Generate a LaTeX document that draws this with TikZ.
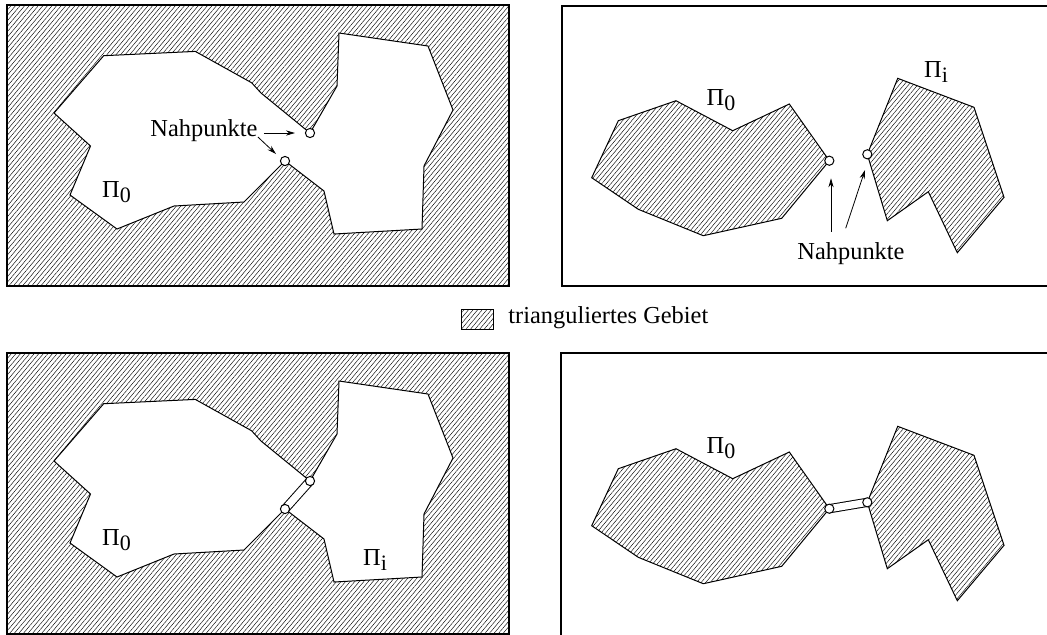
\documentclass[tikz,border=0pt]{standalone}
\usepackage{fontspec}
\setmainfont{Liberation Serif}
\usetikzlibrary{patterns.meta,arrows.meta}
\newcommand\holepoly[1]{%
  \coordinate (#1a1) at (103.7,55.7);
  \coordinate (#1a2) at (195.3,51.4);
  \coordinate (#1a3) at (251.7,82.8);
  \coordinate (#1a4) at (261,93);
  \coordinate (#1ct) at (310,133);
  \coordinate (#1a5) at (337,86);
  \coordinate (#1a6) at (339,33);
  \coordinate (#1a7) at (428,46);
  \coordinate (#1a8) at (453,110);
  \coordinate (#1a9) at (424,166);
  \coordinate (#1a10) at (422,229);
  \coordinate (#1a11) at (334,234);
  \coordinate (#1a12) at (324,191);
  \coordinate (#1cb) at (285,161);
  \coordinate (#1a13) at (244,202);
  \coordinate (#1a14) at (174,206);
  \coordinate (#1a15) at (117,229);
  \coordinate (#1a16) at (70,195);
  \coordinate (#1a17) at (90.5,146);
  \coordinate (#1a18) at (54,113);
  \fill[hatch] (7,5) rectangle (509,286);
  \filldraw[outline,fill=white] (#1a1) -- (#1a2) -- (#1a3) -- (#1a4) -- (#1ct) -- (#1a5) -- (#1a6) -- (#1a7) -- (#1a8) -- (#1a9) -- (#1a10) -- (#1a11) -- (#1a12) -- (#1cb) -- (#1a13) -- (#1a14) -- (#1a15) -- (#1a16) -- (#1a17) -- (#1a18) -- cycle;
  \draw[framestyle] (7,5) rectangle (509,286);
}
\newcommand\islands[1]{%
  \coordinate (#1p1) at (618.3,120.7);
  \coordinate (#1p2) at (676,100.7);
  \coordinate (#1p3) at (732.7,130.7);
  \coordinate (#1p4) at (789.3,104);
  \coordinate (#1cl) at (829.3,160.7);
  \coordinate (#1p5) at (781.7,218.3);
  \coordinate (#1p6) at (703.3,235.7);
  \coordinate (#1p7) at (638.3,209.3);
  \coordinate (#1p8) at (591.7,177.7);
  \coordinate (#1q1) at (897.7,78.3);
  \coordinate (#1q2) at (974,107.3);
  \coordinate (#1q3) at (1004,197.3);
  \coordinate (#1q4) at (957.3,252.7);
  \coordinate (#1q5) at (928.3,191.7);
  \coordinate (#1q6) at (887.3,220.7);
  \coordinate (#1cr) at (867.3,154.3);
  \filldraw[outline,hatch] (#1p1) -- (#1p2) -- (#1p3) -- (#1p4) -- (#1cl) -- (#1p5) -- (#1p6) -- (#1p7) -- (#1p8) -- cycle;
  \filldraw[outline,hatch] (#1q1) -- (#1q2) -- (#1q3) -- (#1q4) -- (#1q5) -- (#1q6) -- (#1cr) -- cycle;
}
\newcommand\pisub[1]{Π\raisebox{-2.8pt}{\fontsize{11}{11}\selectfont #1}}
\begin{document}
\begin{tikzpicture}[x=0.5pt,y=-0.5pt,
  hatch/.style={pattern={Lines[angle=50,distance=1.75pt,line width=0.22pt]},pattern color=black},
  outline/.style={draw=black,line width=0.5pt,line join=miter},
  framestyle/.style={draw=black,line width=0.6pt},
  dot/.style={circle,draw=black,fill=white,line width=0.5pt,minimum size=4.6pt,inner sep=0pt},
  channel/.style={draw=black,line width=0.5pt,double=white,double distance=3.6pt},
  arr/.style={-{Stealth[length=4.5pt,width=2.6pt]},line width=0.4pt},
  lab/.style={inner sep=0pt,font=\fontsize{12.2}{14}\selectfont},
  ]
\useasboundingbox (0,0) rectangle (1047,634);
\clip (0,0) rectangle (1047,634);
% ---------- top left
\holepoly{t}
\node[dot] (tctd) at (tct) {};
\node[dot] (tcbd) at (tcb) {};
\node[lab] (np1) at (204,131) {Nahpunkte};
\node[lab] (tpi0) at (116.5,192) {\pisub{0}};
\coordinate (e1) at (295,133);
\coordinate (e2) at (276,154);
\draw[arr] ([xshift=3pt,yshift=-1pt]np1.east) -- (e1);
\draw[arr] ([yshift=-3pt]np1.east) -- (e2);
% ---------- top right
\draw[framestyle] (1052,286) -- (562,286) -- (562,6) -- (1052,6);
\islands{r}
\node[dot] (rcld) at (rcl) {};
\node[dot] (rcrd) at (rcr) {};
\node[lab] (rpi0) at (721,100) {\pisub{0}};
\node[lab] (rpii) at (936,72) {\pisub{i}};
\node[lab] (np2) at (851,254) {Nahpunkte};
\coordinate (e3) at (831,178.3);
\coordinate (e4) at (865,170);
\coordinate (s3) at (831,231.7);
\coordinate (s4) at (845.7,228.3);
\draw[arr] (s3) -- (e3);
\draw[arr] (s4) -- (e4);
% ---------- legend
\filldraw[hatch,draw=black,line width=0.5pt] (461,309) rectangle (493,329);
\node[lab,anchor=west] (leg) at (508,318) {trianguliertes Gebiet};
% ---------- bottom left
\begin{scope}[shift={(0,348)}]
\holepoly{b}
\end{scope}
\draw[channel] (bct) -- (bcb);
\node[dot] (bctd) at (bct) {};
\node[dot] (bcbd) at (bcb) {};
\node[lab] (bpi0) at (116.5,540) {\pisub{0}};
\node[lab] (bpii) at (375,560) {\pisub{i}};
% ---------- bottom right
\draw[framestyle] (561,640) -- (561,353) -- (1052,353);
\begin{scope}[shift={(0,348)}]
\islands{s}
\end{scope}
\draw[channel] (scl) -- (scr);
\node[dot] (scld) at (scl) {};
\node[dot] (scrd) at (scr) {};
\node[lab] (spi0) at (721,448) {\pisub{0}};
\end{tikzpicture}
\end{document}
